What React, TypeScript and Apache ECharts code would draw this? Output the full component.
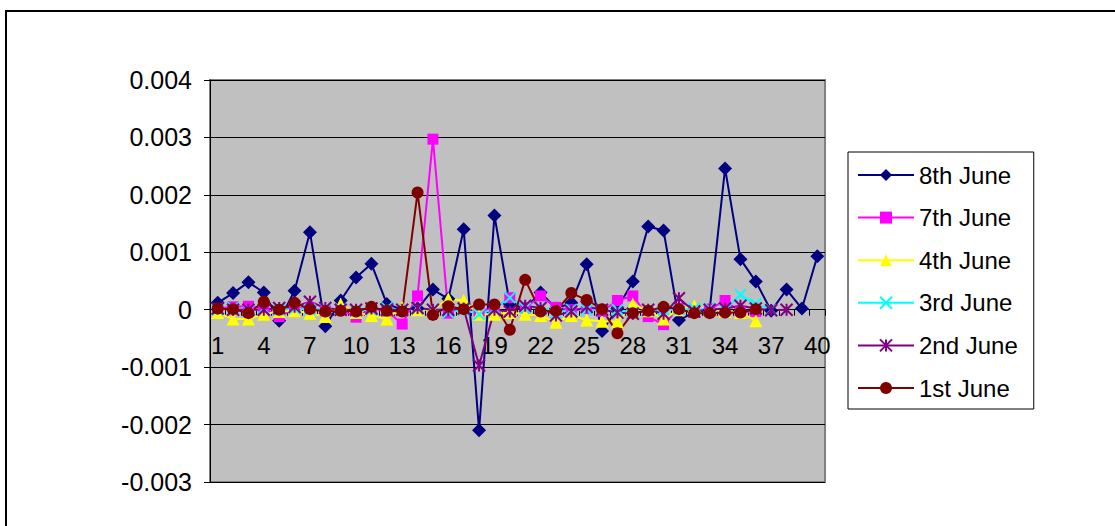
import React, { useEffect, useRef } from "react";
import * as echarts from "echarts";

const categories = ["1","2","3","4","5","6","7","8","9","10","11","12","13","14","15","16","17","18","19","20","21","22","23","24","25","26","27","28","29","30","31","32","33","34","35","36","37","38","39","40"];

const june8 = [0.00012, 0.00029, 0.00048, 0.0003, -0.00019, 0.00033, 0.00135, -0.00029, 0.00016, 0.00056, 0.0008, 0.0001, 0.0, 0.00002, 0.00035, 0.00019, 0.0014, -0.0021, 0.00164, 0.0001, 0.00002, 0.0003, 0.00002, 0.00012, 0.00079, -0.00037, 0.00002, 0.00049, 0.00145, 0.00138, -0.00018, -0.00004, 0.0, 0.00246, 0.00088, 0.00049, -0.00002, 0.00035, 0.00002, 0.00093];
const june7 = [0.00002, 0.00005, 0.00006, 0.00003, -0.00012, 0.00002, 0.00003, -0.00002, 0.0, -0.00013, 0.00002, -0.00002, -0.00025, 0.00024, 0.00297, -0.00006, 0.00003, -0.00002, 0.00002, 0.00021, 0.00003, 0.00024, 0.00004, 0.0, 0.00002, -0.00003, 0.00016, 0.00024, -0.00012, -0.00026, 0.00002, 0.0, 0.00001, 0.00016, -0.00004, -0.00003];
const june4 = [-0.00005, -0.00016, -0.00016, -0.00008, -0.00003, -0.00002, -0.00006, -0.00012, 0.0001, -0.00005, -0.0001, -0.00016, 0.00004, 0.0, 0.0, 0.00019, 0.00016, -0.00008, -0.00008, -0.00005, -0.00008, -0.0001, -0.00022, -0.0001, -0.00018, -0.0002, -0.00021, 0.0001, -0.00002, -0.00016, 0.0, 0.00007, 0.0, -0.00003, -0.00005, -0.00019];
const june3 = [0.0, 0.00003, -0.00002, 0.00002, 0.0, 0.00002, 0.0, 0.00002, 0.0, -0.00002, 0.0, 0.00003, 0.0, 0.00002, 0.0, -0.00005, 0.0, -0.00008, 0.00002, 0.00021, 0.00003, 0.00005, -0.00005, 0.0, 0.0, 0.0, 0.0, -0.00005, 0.0, 0.0, 0.0, 0.00002, 0.00002, 0.0, 0.00026, 0.0001, 0.0];
const june2 = [0.00002, 0.0, 0.0, 0.0, 0.00003, 0.00005, 0.00014, 0.00003, 0.0, 0.0, 0.00002, 0.0, 0.0, 0.00003, 0.0, 0.0, 0.00002, -0.00097, 0.0, -0.00003, 0.00007, 0.00003, -0.0001, -0.00003, 0.00005, 0.0, -0.00005, -0.00007, 0.0, -0.00007, 0.0002, -0.00003, 0.0, 0.00002, 0.00007, 0.00002, -0.00001, 0.0];
const june1 = [0.00002, 0.00001, -0.00006, 0.00014, 0.0, 0.00012, 0.00001, -0.00003, -0.00002, -0.00003, 0.00005, -0.00002, -0.00003, 0.00204, -0.00009, 0.00006, 0.00001, 0.00009, 0.00009, -0.00035, 0.00052, -0.00003, -0.00002, 0.00029, 0.00017, 0.00001, -0.00041, -0.00006, -0.00002, 0.00005, 0.00001, -0.00006, -0.00006, -0.00005, -0.00005, 0.00001];

const Y_MIN = -0.003;
const Y_MAX = 0.004;
const Y_STEP = 0.001;

const FONT = "'Liberation Sans', Arial, sans-serif";
const X_PATH = "path://M0,0L10,10M10,0L0,10";
const STAR_PATH = "path://M0,0L10,10M10,0L0,10M5,0L5,10";

const GRID_TOP = 80;
const GRID_H = 402;

function mk(name: string, data: number[], color: string, symbol: string, size: number, stroked = false) {
  return {
    name,
    type: "line",
    data,
    symbol,
    symbolSize: size,
    showSymbol: true,
    showAllSymbol: true,
    lineStyle: { color, width: 2 },
    itemStyle: stroked
      ? { color: "rgba(0,0,0,0)", borderColor: color, borderWidth: 2 }
      : { color, borderWidth: 0 },
    emphasis: { disabled: true },
  };
}

export default function App() {
  const ref = useRef<HTMLDivElement>(null);
  useEffect(() => {
    if (!ref.current) return;
    const chart = echarts.init(ref.current, undefined, { renderer: "svg" });
    // x axis drawn where y = 0 crosses the plot
    const zeroOffset = -GRID_H * (0 - Y_MIN) / (Y_MAX - Y_MIN);
    chart.setOption({
      animation: false,
      backgroundColor: "#ffffff",
      textStyle: { fontFamily: FONT },
      grid: {
        left: 210,
        top: GRID_TOP,
        width: 615,
        height: GRID_H,
        show: true,
        backgroundColor: "#C0C0C0",
        borderColor: "#808080",
        borderWidth: 2,
      },
      xAxis: {
        type: "category",
        data: categories,
        boundaryGap: true,
        position: "bottom",
        offset: zeroOffset,
        axisLine: { onZero: false, lineStyle: { color: "#000", width: 1 } },
        axisTick: { show: true, interval: 0, length: 6, lineStyle: { color: "#000" } },
        axisLabel: { interval: 2, color: "#000", fontSize: 24, fontFamily: FONT, margin: 24 },
        splitLine: { show: false },
      },
      yAxis: {
        type: "value",
        min: Y_MIN,
        max: Y_MAX,
        interval: Y_STEP,
        axisLine: { show: true, lineStyle: { color: "#000", width: 1 } },
        axisTick: { show: true, length: 6, lineStyle: { color: "#000" } },
        axisLabel: {
          color: "#000",
          fontSize: 25,
          fontFamily: FONT,
          margin: 18,
          formatter: (v: number) => {
            const r = Math.round(v * 1000) / 1000;
            return r === 0 ? "0" : String(r);
          },
        },
        splitLine: { show: true, lineStyle: { color: "#000", width: 1 } },
      },
      legend: {
        orient: "vertical",
        left: 848,
        top: 152,
        padding: [11, 16, 9, 9],
        itemWidth: 56,
        itemHeight: 15,
        itemGap: 18.6,
        borderColor: "#000",
        borderWidth: 1,
        backgroundColor: "#fff",
        textStyle: { fontSize: 24, color: "#000", fontFamily: FONT },
        data: ["8th June", "7th June", "4th June", "3rd June", "2nd June", "1st June"],
      },
      graphic: [
        {
          type: "rect",
          shape: { x: 6, y: 11, width: 1200, height: 700 },
          style: { fill: "none", stroke: "#000", lineWidth: 2 },
          silent: true,
          z: -10,
        },
      ],
      series: [
        mk("8th June", june8, "#000080", "diamond", 14),
        mk("7th June", june7, "#FF00FF", "rect", 11),
        mk("4th June", june4, "#FFFF00", "triangle", 13),
        mk("3rd June", june3, "#00FFFF", X_PATH, 11, true),
        mk("2nd June", june2, "#800080", STAR_PATH, 12, true),
        mk("1st June", june1, "#800000", "circle", 12),
      ],
    });
    return () => chart.dispose();
  }, []);
  return (
    <div
      ref={ref}
      style={{ position: "absolute", left: 0, top: 0, width: 1115, height: 526 }}
    />
  );
}
